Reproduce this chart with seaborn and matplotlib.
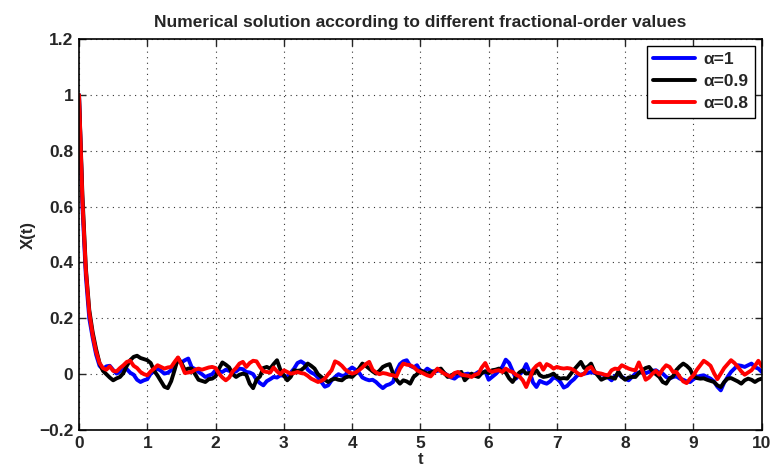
import numpy as np
import pandas as pd
import seaborn as sns
import matplotlib
import matplotlib.pyplot as plt
matplotlib.use('Agg')

# values, one sample every 0.05 in t (rows of 0.5)
x_alpha_1 = [
    1.0, 0.60, 0.35, 0.20, 0.13, 0.07, 0.03, 0.018, 0.028, 0.030,
    0.015, 0.002, 0.010, 0.022, 0.018, 0.005, -0.002, -0.020, -0.028, -0.022,
    -0.018, 0.002, 0.010, 0.020, 0.012, 0.002, 0.005, 0.014, 0.030, 0.048,
    0.042, 0.050, 0.056, 0.025, 0.018, 0.008, 0.000, -0.010, -0.005, 0.000,
    0.014, 0.010, 0.008, 0.016, 0.012, 0.006, 0.010, 0.020, 0.018, 0.008,
    0.006, 0.000, -0.020, -0.032, -0.040, -0.025, -0.018, -0.010, -0.012, -0.004,
    -0.006, -0.010, 0.005, 0.020, 0.040, 0.046, 0.038, 0.016, 0.006, 0.000,
    -0.012, -0.028, -0.045, -0.040, -0.022, -0.010, 0.000, -0.006, -0.004, 0.015,
    0.024, 0.016, 0.006, -0.012, -0.018, -0.022, -0.020, -0.028, -0.040, -0.050,
    -0.040, -0.036, -0.028, 0.012, 0.036, 0.046, 0.050, 0.030, 0.024, 0.032,
    0.012, 0.008, 0.020, 0.012, 0.008, 0.012, 0.014, 0.004, -0.004, -0.012,
    -0.016, -0.006, -0.004, 0.000, 0.002, -0.004, 0.000, 0.008, 0.004, 0.010,
    -0.020, -0.010, 0.000, 0.012, 0.026, 0.052, 0.040, 0.012, -0.016, -0.002,
    0.010, 0.036, 0.008, -0.030, -0.046, -0.024, -0.030, -0.034, -0.026, -0.012,
    -0.016, -0.028, -0.048, -0.042, -0.028, -0.018, -0.004, -0.002, 0.002, 0.004,
    0.008, 0.004, 0.002, 0.000, -0.004, -0.012, -0.022, -0.006, 0.000, -0.010,
    -0.016, -0.022, -0.010, 0.002, 0.006, 0.008, 0.004, 0.008, 0.012, 0.014,
    0.006, 0.002, -0.010, -0.016, -0.010, -0.008, -0.016, -0.020, -0.026, -0.028,
    -0.018, -0.010, -0.006, -0.004, -0.010, -0.016, -0.026, -0.045, -0.058, -0.030,
    -0.010, 0.008, 0.020, 0.032, 0.030, 0.026, 0.032, 0.038, 0.025, 0.020,
    0.008,
]

x_alpha_09 = [
    1.0, 0.64, 0.38, 0.23, 0.15, 0.09, 0.04, 0.012, 0.000, -0.012,
    -0.022, -0.015, -0.010, 0.004, 0.030, 0.050, 0.062, 0.066, 0.058, 0.054,
    0.050, 0.040, 0.012, -0.005, -0.025, -0.045, -0.050, -0.025, 0.015, 0.058,
    0.040, 0.015, 0.020, 0.020, 0.000, -0.020, -0.024, -0.028, -0.018, -0.016,
    -0.008, 0.020, 0.042, 0.034, 0.024, 0.000, -0.010, -0.002, 0.002, -0.002,
    -0.034, -0.050, -0.020, -0.008, 0.022, 0.026, 0.020, 0.036, 0.050, 0.015,
    -0.005, -0.022, -0.010, 0.014, 0.012, 0.014, 0.024, 0.038, 0.030, 0.020,
    0.000, -0.010, -0.020, -0.028, -0.020, -0.016, -0.020, -0.022, -0.012, -0.008,
    -0.010, 0.002, 0.020, 0.038, 0.030, 0.020, 0.010, 0.002, 0.012, 0.026,
    0.032, 0.036, 0.002, -0.020, -0.034, -0.022, -0.026, -0.034, -0.010, 0.000,
    0.014, 0.008, 0.002, 0.006, 0.010, 0.016, 0.020, 0.004, -0.010, -0.004,
    0.002, 0.004, 0.008, -0.022, -0.010, 0.002, -0.006, -0.010, 0.004, 0.010,
    0.004, 0.014, 0.016, 0.020, 0.010, 0.006, -0.015, -0.028, -0.010, 0.006,
    0.014, 0.002, 0.004, 0.002, 0.014, -0.004, -0.010, -0.008, -0.004, 0.002,
    -0.010, -0.016, -0.014, -0.016, 0.000, 0.016, 0.030, 0.044, 0.022, 0.026,
    0.038, 0.010, -0.005, -0.020, -0.014, -0.010, -0.012, -0.016, 0.010, -0.010,
    -0.020, -0.012, -0.010, -0.010, 0.004, 0.014, 0.022, 0.026, 0.010, 0.000,
    -0.010, -0.028, -0.034, -0.015, -0.008, 0.015, 0.028, 0.038, 0.030, 0.018,
    -0.008, -0.014, -0.016, -0.015, -0.020, -0.024, -0.028, -0.040, -0.046, -0.028,
    -0.016, -0.014, -0.020, -0.026, -0.034, -0.022, -0.016, -0.020, -0.028, -0.020,
    -0.016,
]

x_alpha_08 = [
    1.0, 0.62, 0.37, 0.22, 0.14, 0.08, 0.04, 0.022, 0.016, 0.028,
    0.012, 0.010, 0.022, 0.032, 0.044, 0.048, 0.030, 0.022, 0.008, 0.000,
    -0.004, 0.010, 0.020, 0.032, 0.026, 0.020, 0.024, 0.026, 0.044, 0.060,
    0.034, 0.004, 0.006, 0.008, 0.016, 0.020, 0.016, 0.020, 0.024, 0.026,
    0.022, 0.002, -0.012, -0.022, -0.012, 0.010, 0.022, 0.038, 0.044, 0.026,
    0.040, 0.048, 0.046, 0.026, 0.010, 0.008, 0.006, 0.024, 0.010, 0.000,
    0.014, 0.008, 0.002, 0.004, 0.008, 0.004, 0.002, -0.006, -0.016, -0.022,
    -0.028, -0.024, -0.016, 0.000, 0.014, 0.046, 0.040, 0.030, 0.016, 0.008,
    0.002, 0.006, 0.014, 0.024, 0.036, 0.044, 0.016, 0.006, 0.000, 0.004,
    0.002, -0.002, -0.004, -0.008, 0.020, 0.038, 0.034, 0.032, 0.026, 0.014,
    0.008, 0.002, -0.004, -0.008, 0.006, 0.020, 0.010, 0.002, -0.004, -0.010,
    0.004, 0.008, -0.002, -0.004, -0.006, -0.010, -0.002, 0.002, 0.024, 0.040,
    0.014, 0.008, 0.012, 0.014, 0.008, 0.020, 0.012, 0.008, -0.002, -0.008,
    -0.022, -0.046, -0.016, 0.016, 0.030, 0.038, 0.016, 0.036, 0.030, 0.020,
    0.026, 0.022, 0.020, 0.022, 0.020, 0.014, 0.004, -0.004, 0.002, 0.020,
    0.026, 0.008, 0.004, 0.002, -0.002, -0.004, 0.014, 0.020, 0.018, 0.032,
    0.026, 0.020, 0.016, 0.014, 0.042, 0.012, -0.020, -0.012, 0.002, 0.012,
    -0.002, 0.018, 0.032, 0.026, 0.008, 0.008, -0.010, -0.026, -0.032, -0.016,
    -0.004, 0.016, 0.032, 0.048, 0.040, 0.030, 0.004, -0.018, 0.002, 0.022,
    0.036, 0.050, 0.040, 0.026, 0.010, -0.002, 0.006, 0.014, 0.030, 0.048,
    0.028,
]

t = np.linspace(0, 10, 201)
assert len(x_alpha_1) == len(x_alpha_09) == len(x_alpha_08) == len(t)

labels = ['\u03b1=1', '\u03b1=0.9', '\u03b1=0.8']
colors = ['blue', 'black', 'red']
xticks = [0, 1, 2, 3, 4, 5, 6, 7, 8, 9, 10]
yticks = [-0.2, 0, 0.2, 0.4, 0.6, 0.8, 1, 1.2]
ytick_labels = ['\u22120.2', '0', '0.2', '0.4', '0.6', '0.8', '1', '1.2']

sns.set_style('ticks')
plt.rcParams['font.family'] = ['Liberation Sans', 'DejaVu Sans']
plt.rcParams['font.weight'] = 'bold'

fig, ax = plt.subplots(figsize=(7.71, 4.71), dpi=100)
fig.subplots_adjust(left=0.1025, right=0.988, bottom=0.087, top=0.917)

for vals, lab, col in zip([x_alpha_1, x_alpha_09, x_alpha_08], labels, colors):
    df = pd.DataFrame({'t': t, 'X': vals})
    sns.lineplot(data=df, x='t', y='X', color=col, linewidth=2.8, label=lab, ax=ax)

ax.set_xlim(0, 10)
ax.set_ylim(-0.2, 1.2)
ax.set_xticks(xticks)
ax.set_yticks(yticks)
ax.set_yticklabels(ytick_labels)
ax.tick_params(direction='in', length=5, width=1, top=True, right=True,
               labelsize=12.5, pad=4)
for lbl in ax.get_xticklabels() + ax.get_yticklabels():
    lbl.set_fontweight('bold')
ax.grid(True, linestyle=(0, (1, 4)), color='black', linewidth=0.8, alpha=0.8)
for sp in ax.spines.values():
    sp.set_visible(True)
    sp.set_linewidth(1.2)
    sp.set_color('black')

ax.set_xlabel('t', fontsize=12, fontweight='bold', labelpad=1)
ax.set_ylabel('X(t)', fontsize=12, fontweight='bold', labelpad=2)
ax.set_title('Numerical solution according to different fractional-order values',
             fontsize=12.5, fontweight='bold', pad=9)

leg = ax.legend(loc='upper right', fontsize=12.5, handlelength=2.4,
                borderaxespad=0.4, fancybox=False, framealpha=1,
                edgecolor='black', labelspacing=0.4, handletextpad=0.5,
                borderpad=0.35)
leg.get_frame().set_linewidth(1.0)
for txt in leg.get_texts():
    txt.set_fontweight('bold')

fig.savefig('out.png', dpi=100)
